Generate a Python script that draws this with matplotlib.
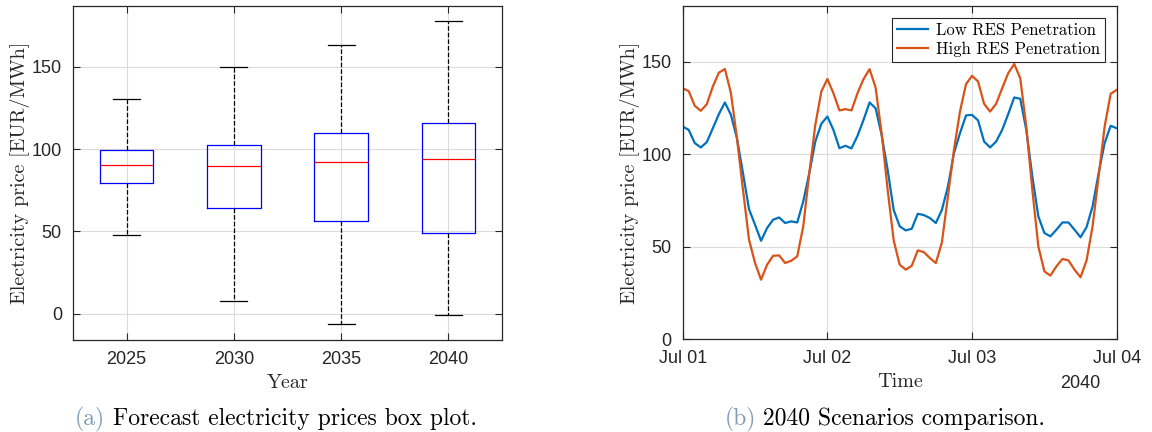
import numpy as np
import pandas as pd
import matplotlib
matplotlib.use('Agg')
import matplotlib.pyplot as plt
import matplotlib.dates as mdates

plt.rcParams['font.family'] = ['Liberation Sans', 'DejaVu Sans']
plt.rcParams['axes.unicode_minus'] = False

# ---- box plot data (a) ----
years = ['2025', '2030', '2035', '2040']
med = [90.5, 89.8, 92.0, 94.0]
q1 = [79.5, 64.5, 56.5, 49.0]
q3 = [99.5, 102.5, 110.0, 116.0]
whislo = [48.0, 7.5, -6.5, -1.0]
whishi = [130.5, 150.0, 163.5, 178.0]

# ---- hourly 2040 scenarios (b) ----
low_res = [114.9, 113.1, 106.0, 103.6, 106.5, 114.0, 121.6, 127.9, 121.2, 108.6,
           89.7, 70.3, 61.9, 53.2, 60.1, 64.6, 65.8, 62.8, 63.7, 63.1,
           74.5, 89.7, 106.8, 116.4,
           120.3, 113.1, 103.2, 104.5, 103.1, 109.9, 118.5, 127.9, 124.8, 110.4,
           91.5, 69.9, 61.0, 58.8, 59.7, 67.8, 67.1, 65.5, 62.8, 69.9,
           82.5, 100.5, 111.3, 120.9,
           121.2, 118.2, 106.8, 103.6, 106.8, 113.1, 121.6, 130.6, 129.9, 113.1,
           88.0, 66.4, 57.4, 55.6, 59.2, 63.1, 63.1, 59.2, 55.1, 60.6,
           71.8, 89.7, 106.0, 115.3, 114.0]
high_res = [135.6, 134.0, 126.1, 123.4, 127.0, 136.5, 144.0, 146.0, 133.0, 108.6,
            80.8, 53.8, 41.2, 32.2, 40.3, 45.1, 45.3, 41.2, 42.4, 44.8,
            61.0, 89.7, 115.8, 133.8,
            140.6, 132.9, 123.6, 124.3, 123.6, 132.9, 140.5, 145.9, 136.0, 111.3,
            80.8, 53.4, 40.3, 37.6, 39.7, 48.0, 47.1, 43.9, 41.2, 52.3,
            77.2, 102.3, 123.0, 137.8,
            142.3, 139.2, 127.2, 123.0, 127.2, 135.6, 143.7, 148.7, 141.0, 114.9,
            80.8, 50.2, 36.7, 34.4, 39.4, 43.4, 42.6, 37.6, 33.5, 42.6,
            61.0, 88.0, 114.9, 132.6, 134.7]
times = pd.date_range('2040-07-01', periods=len(low_res), freq='h')

grey = '#262626'
W, H = 1152, 432
fig = plt.figure(figsize=(W / 100, H / 100), dpi=100)

def px_axes(x0, y0, x1, y1):
    return fig.add_axes([x0 / W, 1 - y1 / H, (x1 - x0) / W, (y1 - y0) / H])

def style(ax):
    ax.grid(True, color='#dcdcdc', linewidth=0.8)
    ax.set_axisbelow(True)
    for s in ax.spines.values():
        s.set_color(grey)
        s.set_linewidth(0.9)
    ax.tick_params(direction='in', top=True, right=True, labelsize=13,
                   colors=grey, length=5, width=0.8, pad=8)

lab_font = dict(family='cmr10', size=14.5, color=grey)

# (a) box plot
ax1 = px_axes(73, 6, 502, 340)
stats = [dict(med=med[i], q1=q1[i], q3=q3[i], whislo=whislo[i],
              whishi=whishi[i], fliers=[], label=years[i]) for i in range(4)]
ax1.bxp(stats, positions=[1, 2, 3, 4], widths=0.5, showfliers=False,
        boxprops=dict(color='#0000ff', linewidth=0.9),
        medianprops=dict(color='#ff0000', linewidth=0.9),
        whiskerprops=dict(color='black', linestyle='--', linewidth=0.9),
        capprops=dict(color='black', linewidth=0.9), capwidths=0.25)
ax1.set_xlim(0.5, 4.5)
ax1.set_ylim(-16, 187)
ax1.set_yticks([0, 50, 100, 150])
style(ax1)
ax1.set_ylabel('Electricity price [EUR/MWh]', fontdict=lab_font, labelpad=1)
ax1.set_xlabel('Year', fontdict=lab_font, labelpad=4)

# (b) time series
ax2 = px_axes(682.7, 6, 1116.7, 339.3)
ax2.plot(times, low_res, color='#0072BD', linewidth=1.6, label='Low RES Penetration')
ax2.plot(times, high_res, color='#D95319', linewidth=1.6, label='High RES Penetration')
ax2.set_xlim(times[0], times[-1])
ax2.set_ylim(0, 180)
ax2.set_yticks([0, 50, 100, 150])
ax2.xaxis.set_major_locator(mdates.DayLocator())
ax2.xaxis.set_major_formatter(mdates.DateFormatter('%b %d'))
style(ax2)
ax2.set_ylabel('Electricity price [EUR/MWh]', fontdict=lab_font, labelpad=1)
ax2.set_xlabel('Time', fontdict=lab_font, labelpad=4)
fig.text(1100 / W, 1 - 388 / H, '2040', ha='right', va='baseline',
         fontsize=13, color=grey)
leg = ax2.legend(loc='upper right', prop=dict(family='cmr10', size=12),
                 fancybox=False, edgecolor=grey, framealpha=1,
                 handlelength=1.9, handletextpad=0.45, borderpad=0.3,
                 labelspacing=0.2, borderaxespad=0.7)
leg.get_frame().set_linewidth(0.8)

# captions
cap_col = '#7f9bb8'
cap_y = 1 - 425 / H
fig.text(75 / W, cap_y, '(a)', family='cmr10', size=17, color=cap_col,
         ha='left', va='baseline')
fig.text(113 / W, cap_y, 'Forecast electricity prices box plot.',
         family='cmr10', size=17, color='black', ha='left', va='baseline')
fig.text(725 / W, cap_y, '(b)', family='cmr10', size=17, color=cap_col,
         ha='left', va='baseline')
fig.text(763 / W, cap_y, '2040 Scenarios comparison.',
         family='cmr10', size=17, color='black', ha='left', va='baseline')

fig.savefig('out.png', dpi=100)
